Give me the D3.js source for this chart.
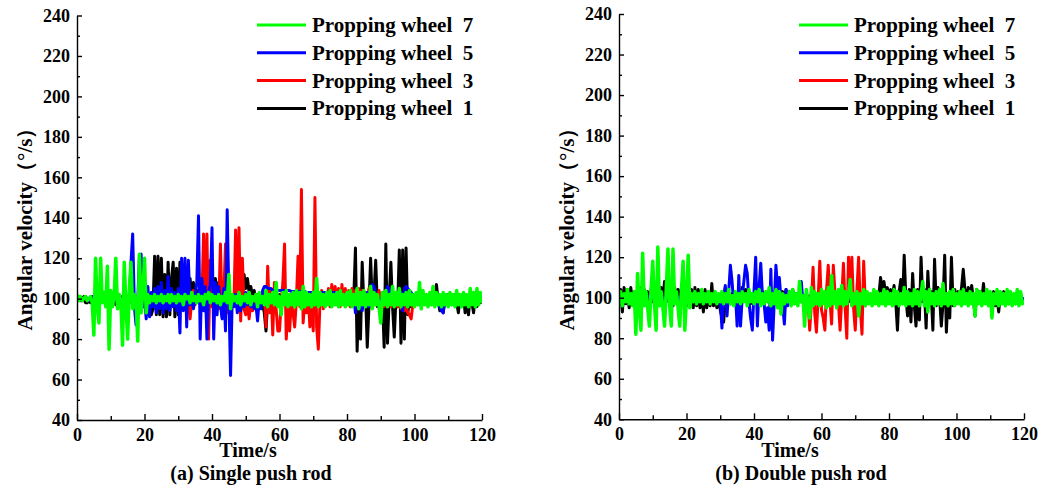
<!DOCTYPE html>
<html><head><meta charset="utf-8">
<script src="https://cdn.jsdelivr.net/npm/d3@7"></script>
<style>
body{margin:0;background:#fff}
svg{display:block}
text{font-family:"Liberation Serif","Times New Roman",serif;font-weight:bold;fill:#000}
</style>
</head><body>
<svg id="chart" width="1052" height="488"></svg>
<script>
// sampling interval of every series (s)
const sampleStep = 0.5;
const xTickValues = [0, 20, 40, 60, 80, 100, 120];
const xMinorValues = [10, 30, 50, 70, 90, 110];
const yTickValues = [40, 60, 80, 100, 120, 140, 160, 180, 200, 220, 240];
const yMinorValues = [50, 70, 90, 110, 130, 150, 170, 190, 210, 230];
const legendLabels = ["Propping wheel  7", "Propping wheel  5", "Propping wheel  3", "Propping wheel  1"];
const captions = ["(a) Single push rod", "(b) Double push rod"];
const xTitle = "Time/s";
const yTitle = "Angular velocity（°/s）";

// (a) Single push rod — angular velocity (°/s), one value every 0.5 s
const singleWheel1 = [
101,100,99,100,101,98,98,99,98,100,101,99,100,102,101,99,100,102,101,99,
100,98,101,97,100,99,101,98,100,99,101,98,100,97,98,97,100,99,101,98,
100,99,101,97,92,95,121,92,121,92,120,91,112,91,118,92,110,118,91,115,
92,118,96,102,99,104,98,110,101,108,98,104,99,101,98,102,100,103,99,104,
110,102,110,103,108,99,104,98,102,97,101,98,102,99,103,100,106,113,104,112,
105,110,103,106,101,104,99,102,98,101,97,93,84,99,101,98,102,99,101,98,
102,99,101,98,102,99,101,98,102,99,101,98,102,99,101,98,102,99,101,98,
102,99,101,98,102,99,101,98,102,99,101,98,102,99,101,98,102,99,101,98,
101,98,102,97,100,125,74,103,80,118,97,102,76,96,120,97,102,119,96,103,
97,101,76,127,78,100,118,96,81,100,96,124,78,124,80,125,92,101,96,102,
98,101,97,100,98,101,99,102,98,101,99,103,98,107,99,94,101,93,100,97,
102,98,101,99,102,98,93,101,97,102,93,100,92,102,98,93,101,96,100,98,
99];
const singleWheel3 = [
100,101,100,99,100,101,100,99,100,101,100,99,100,101,100,99,100,101,100,99,
100,101,100,99,100,101,100,99,100,101,100,99,100,101,100,99,100,101,100,99,
100,101,100,99,100,101,100,99,100,101,100,99,100,101,100,99,100,101,100,99,
100,101,100,99,100,101,100,90,99,104,97,101,98,103,99,132,96,132,80,119,
96,104,97,102,95,127,91,101,127,93,100,96,102,98,134,96,135,89,120,95,
92,98,90,99,94,101,96,102,97,101,98,103,86,116,93,104,82,108,95,84,
84,98,108,127,80,96,84,99,93,86,99,121,96,154,88,99,93,102,86,100,
84,150,86,75,98,104,95,101,97,105,96,107,98,106,97,105,96,107,97,105,
97,104,96,105,97,104,98,105,96,104,97,103,98,105,96,104,97,103,98,104,
97,103,96,102,97,104,96,103,97,102,96,101,95,100,94,97,93,92,90,97,
100,101,100,99,100,101,100,99,100,101,100,99,100,101,100,99,100,101,100,99,
100,101,100,99,100,101,100,99,100,101,100,99,100,101,100,99,100,101,100,99,
100];
const singleWheel5 = [
100,101,100,99,100,101,100,99,100,101,100,99,100,101,100,99,100,101,100,99,
100,101,100,99,100,101,100,99,100,101,100,101,118,132,96,87,99,121,122,96,
100,90,106,91,103,96,105,93,106,95,108,93,104,95,111,94,105,96,103,94,
105,83,120,94,120,86,119,97,102,95,101,108,141,80,110,94,106,80,103,107,
135,80,108,92,106,97,90,105,84,144,101,62,101,96,102,93,100,94,101,96,
103,97,101,96,99,95,97,89,100,95,104,106,106,105,105,105,104,104,104,104,
104,104,104,104,104,104,104,103.5,103.5,103.5,103.5,103.5,103.5,103.5,103.5,103.5,103,103,103,103,
103,103,103,103,103,103,103,103,103,103,103,103,103,103,103,103,103,102,101,99,
100,97,101,98,102,93,100,97,99,94,101,98,103,96,104,107,106,102,99,96,
100,97,102,98,106,105,101,97,102,99,101,97,103,94,105,106,105,104,103,102,
101,98,102,97,101,99,102,98,101,97,102,99,101,98,101,96,94,93,99,101,
98,102,97,101,99,102,98,101,97,102,99,101,98,102,97,101,99,102,98,101,
100];
const singleWheel7 = [
102,99,101,99,100,101,99,100,101,98,82,120,96,88,120,98,103,96,116,75,
104,96,101,120,95,102,98,77,118,97,80,104,118,95,102,99,79,122,93,103,
120,93,102,98,101,99,102,98,101,99,102,98,101,99,102,98,102,99,101,98,
102,99,101,97,102,100,101,98,103,99,101,98,102,99,101,97,102,100,103,98,
102,99,101,98,102,97,101,99,103,98,112,95,102,99,101,98,103,97,101,99,
102,98,103,97,101,99,102,96,103,98,101,97,104,96,102,98,103,97,108,96,
101,92,103,97,104,96,102,97,103,96,104,97,103,95,106,96,103,97,102,96,
103,97,110,96,103,97,102,96,103,97,104,96,102,97,103,96,104,97,102,96,
103,97,104,96,102,97,105,95,103,97,104,96,102,97,106,95,103,97,102,96,
88,103,97,104,96,102,97,106,96,103,97,105,96,102,97,103,96,104,97,102,
96,103,97,108,95,104,97,102,96,103,97,106,96,103,97,102,96,103,97,102,
96,103,97,102,96,104,97,102,96,103,97,102,96,105,97,103,96,105,97,103,
98];

// (b) Double push rod — angular velocity (°/s), one value every 0.5 s
const doubleWheel1 = [
98,104,93,105,97,104,95,105,98,103,96,104,97,105,99,104,97,103,96,104,
98,102,96,103,97,105,99,108,98,106,97,104,96,105,98,104,96,105,97,104,
96,105,97,104,95,105,96,104,95,103,93,104,95,103,96,107,96,102,95,101,
94,90,88,99,96,100,97,102,98,101,97,103,98,105,99,104,98,103,97,102,
98,102,97,101,98,103,97,102,98,101,97,102,98,103,97,104,98,103,99,104,
98,103,99,104,98,102,99,103,98,101,99,102,98,101,99,102,98,101,99,102,
98,101,99,102,98,101,99,102,98,101,99,102,98,101,99,102,98,101,99,102,
98,101,99,102,98,101,99,102,98,101,99,102,100,99,101,110,103,108,102,105,
101,104,100,106,98,84,103,109,97,121,100,91,104,88,112,96,86,104,89,120,
98,104,85,113,97,103,84,119,96,105,100,86,97,121,83,102,90,120,96,104,
98,103,99,105,114,104,99,105,100,106,99,91,104,100,103,99,107,98,102,97,
101,98,103,96,100,93,102,98,103,99,101,97,102,98,101,97,102,99,101,98,
100];
const doubleWheel3 = [
100,101,100,99,100,101,100,99,100,101,100,99,100,101,100,99,100,101,100,99,
100,101,100,99,100,101,100,99,100,101,100,99,100,101,100,99,100,101,100,99,
100,101,100,99,100,101,100,99,100,101,100,99,100,101,100,99,100,101,100,99,
100,101,100,99,100,101,100,99,100,101,100,99,100,101,100,99,100,101,100,99,
100,101,100,99,100,101,100,99,100,101,100,99,100,101,100,99,100,101,100,99,
100,101,100,99,100,101,100,99,100,101,100,99,99,84,97,115,92,83,100,118,
94,90,84,104,116,99,87,116,102,95,98,84,100,117,95,80,120,103,120,95,
84,104,120,95,82,118,96,102,100,101,100,99,100,101,100,99,100,101,100,99,
100,101,100,99,100,101,100,99,100,101,100,99,100,101,100,99,100,101,100,99,
100,101,100,99,100,101,100,99,100,101,100,99,100,101,100,99,100,101,100,99,
100,101,100,99,100,101,100,99,100,101,100,99,100,101,100,99,100,101,100,99,
100,101,100,99,100,101,100,99,100,101,100,99,100,101,100,99,100,101,100,99,
100];
const doubleWheel5 = [
100,101,100,99,100,101,100,99,100,101,100,99,100,101,100,99,100,101,100,99,
100,101,100,99,100,101,100,99,100,101,100,99,100,101,100,99,100,101,100,99,
100,101,100,99,100,101,100,99,100,101,100,99,100,101,100,99,100,101,100,99,
99,85,101,106,91,103,116,108,97,102,86,111,86,100,108,116,112,98,90,84,
103,120,86,105,117,101,97,88,95,84,114,79,98,116,104,110,99,96,87,104,
96,101,98,103,97,102,99,101,108,98,100,101,100,99,100,101,100,99,100,101,
100,101,100,99,100,101,100,99,100,101,100,99,100,101,100,99,100,101,100,99,
100,101,100,99,100,101,100,99,100,101,100,99,100,101,100,99,100,101,100,99,
100,101,100,99,100,101,100,99,100,101,100,99,100,101,100,99,100,101,100,99,
100,101,100,99,100,101,100,99,100,101,100,99,100,101,100,99,100,101,100,99,
100,101,100,99,100,101,100,99,100,101,100,99,100,101,100,99,100,101,100,99,
100,101,100,99,100,101,100,99,100,101,100,99,100,101,100,99,100,101,100,99,
100];
const doubleWheel7 = [
97,103,96,102,98,104,97,102,96,103,82,112,95,84,122,96,103,95,86,104,
118,97,84,125,96,103,95,86,104,124,96,86,124,97,103,95,86,104,118,84,
100,121,95,102,98,103,97,102,98,104,97,102,98,103,97,102,98,103,97,102,
98,103,97,102,98,104,97,101,96,103,98,102,97,103,98,102,96,104,98,102,
97,103,98,104,96,102,97,103,98,105,96,102,97,104,95,103,92,102,97,101,
98,103,96,104,97,102,96,108,98,101,86,104,97,90,105,96,103,97,102,96,
104,97,103,95,105,96,111,97,103,95,104,97,106,96,103,97,102,109,96,102,
97,103,91,102,97,104,96,103,97,102,96,104,97,103,96,102,97,104,96,103,
97,102,96,104,97,103,96,102,97,105,96,103,97,102,96,104,97,103,96,102,
108,96,103,93,104,97,102,96,103,97,104,96,107,97,102,96,103,97,104,96,
102,97,103,96,104,97,102,96,103,97,102,91,104,97,103,96,102,97,104,96,
103,90,102,97,104,96,103,97,102,96,104,97,103,96,102,97,104,96,103,97,
99];

const colors = {w1: "#000000", w3: "#ff0000", w5: "#0000ff", w7: "#00ff00"};

const svg = d3.select("#chart");

const panels = [
  {x0: 77, x1: 482, y0: 15.5, y1: 420, caption: captions[0], capDx: 174,
   series: [
     {values: singleWheel1, color: colors.w1, width: 3},
     {values: singleWheel3, color: colors.w3, width: 3},
     {values: singleWheel5, color: colors.w5, width: 3},
     {values: singleWheel7, color: colors.w7, width: 3.5}]},
  {x0: 619, x1: 1024, y0: 14, y1: 419.3, caption: captions[1], capDx: 182,
   series: [
     {values: doubleWheel1, color: colors.w1, width: 3},
     {values: doubleWheel3, color: colors.w3, width: 3},
     {values: doubleWheel5, color: colors.w5, width: 3},
     {values: doubleWheel7, color: colors.w7, width: 3.5}]}
];
const legendColors = [colors.w7, colors.w5, colors.w3, colors.w1];

panels.forEach((p, pi) => {
  const g = svg.append("g");
  const x = d3.scaleLinear().domain([0, 120]).range([p.x0, p.x1]);
  const y = d3.scaleLinear().domain([40, 240]).range([p.y1, p.y0]);

  const clipId = "clip" + pi;
  svg.append("clipPath").attr("id", clipId).append("rect")
    .attr("x", p.x0).attr("y", p.y0).attr("width", p.x1 - p.x0).attr("height", p.y1 - p.y0);

  const line = d3.line().x((d, i) => x(i * sampleStep)).y(d => y(d));
  p.series.forEach(s => {
    g.append("path").datum(s.values)
      .attr("d", line)
      .attr("clip-path", `url(#${clipId})`)
      .attr("fill", "none")
      .attr("stroke", s.color)
      .attr("stroke-width", s.width)
      .attr("stroke-linejoin", "round");
  });

  // axes
  const yAxis = d3.axisLeft(y).tickValues(yTickValues).tickSize(-5).tickSizeOuter(0).tickPadding(7);
  const ya = g.append("g").attr("transform", `translate(${p.x0},0)`).call(yAxis);
  const yMinor = d3.axisLeft(y).tickValues(yMinorValues).tickSize(-3).tickSizeOuter(0).tickFormat("");
  const ym = g.append("g").attr("transform", `translate(${p.x0},0)`).call(yMinor);
  ym.select(".domain").remove();

  const xAxis = d3.axisBottom(x).tickValues(xTickValues).tickSize(-6).tickSizeOuter(0).tickPadding(8);
  const xa = g.append("g").attr("transform", `translate(0,${p.y1})`).call(xAxis);
  const xMinor = d3.axisBottom(x).tickValues(xMinorValues).tickSize(-4).tickSizeOuter(0).tickFormat("");
  const xm = g.append("g").attr("transform", `translate(0,${p.y1})`).call(xMinor);
  xm.select(".domain").remove();

  [ya, ym, xa, xm].forEach(a => {
    a.selectAll("path,line").attr("stroke", "#000").attr("stroke-width", 1.4);
    a.selectAll("text").attr("font-size", 18).attr("fill", "#000")
      .style("font-family", '"Liberation Serif","Times New Roman",serif').style("font-weight", "bold");
  });

  // titles
  g.append("text").attr("transform", `translate(${p.x0 - 45},224) rotate(-90)`)
    .attr("text-anchor", "middle").attr("font-size", 21).text(yTitle);
  g.append("text").attr("x", p.x0 + 171).attr("y", 457)
    .attr("text-anchor", "middle").attr("font-size", 20).text(xTitle);
  g.append("text").attr("x", p.x0 + p.capDx).attr("y", 480)
    .attr("text-anchor", "middle").attr("font-size", 20).text(p.caption);

  // legend
  const lx = p.x0 + 180;
  legendLabels.forEach((lab, i) => {
    const ly = 25 + i * 27.8;
    g.append("line").attr("x1", lx).attr("x2", lx + 49).attr("y1", ly).attr("y2", ly)
      .attr("stroke", legendColors[i]).attr("stroke-width", 3);
    g.append("text").attr("x", lx + 55).attr("y", ly + 7).attr("font-size", 21)
      .style("white-space", "pre").text(lab);
  });
});
</script>
</body></html>
